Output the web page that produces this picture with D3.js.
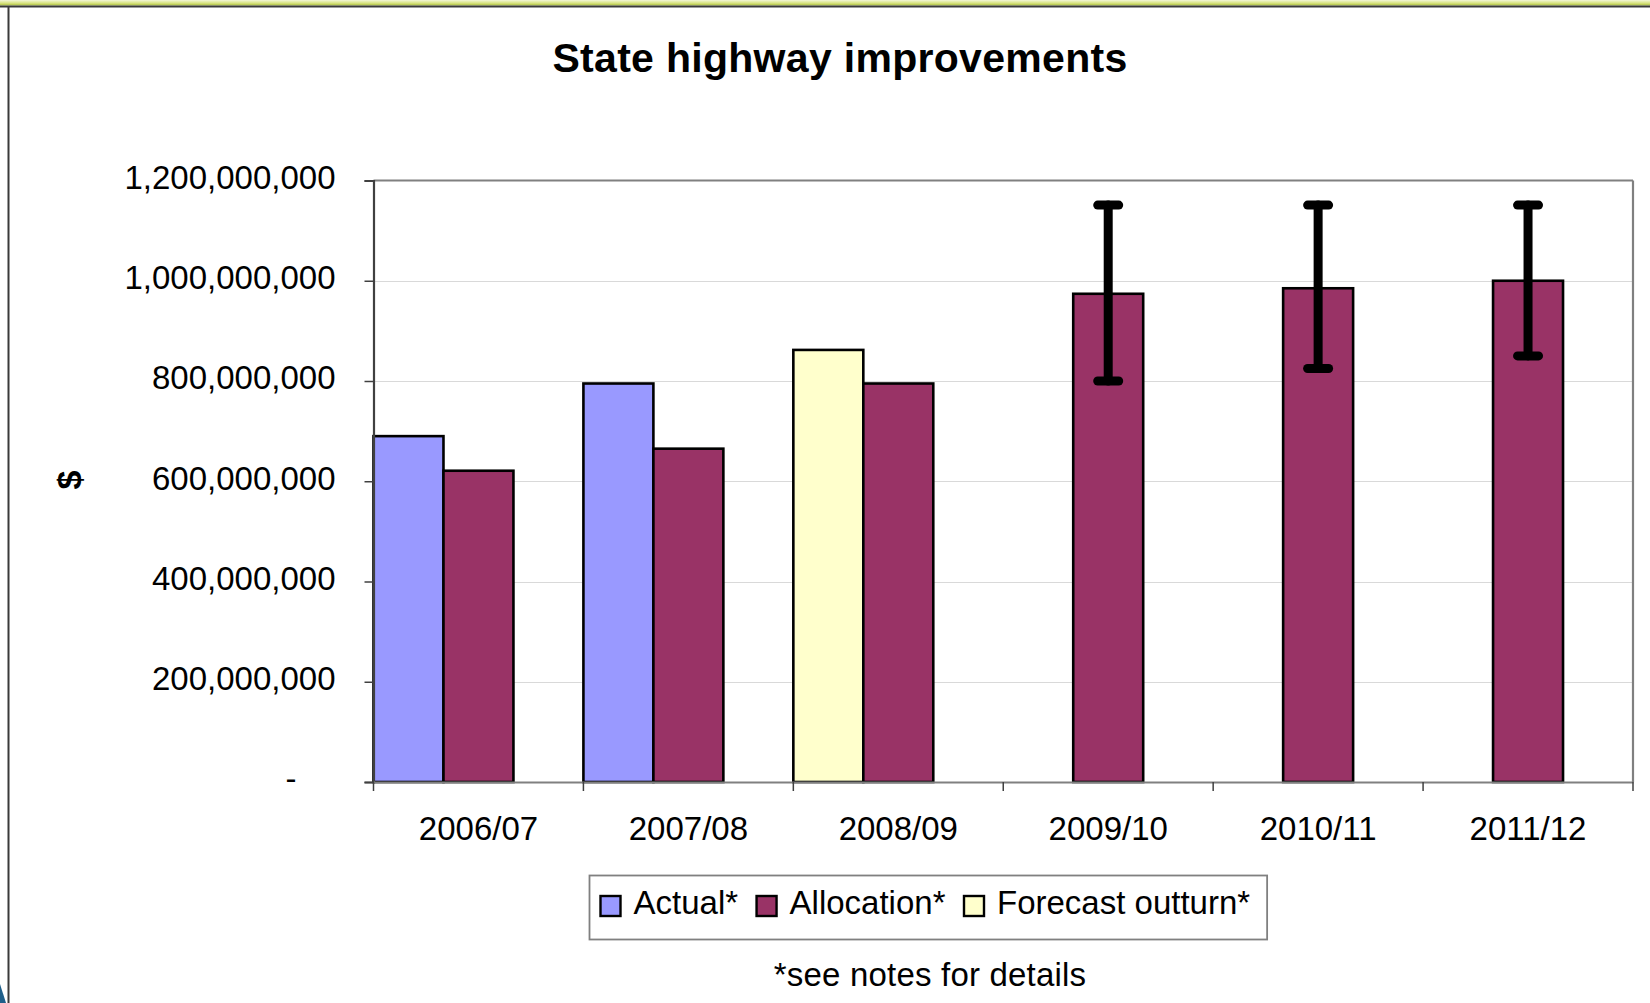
<!DOCTYPE html>
<html>
<head>
<meta charset="utf-8">
<script src="https://cdn.jsdelivr.net/npm/d3@7"></script>
<style>
  html, body { margin: 0; padding: 0; background: #fff; }
  svg { display: block; font-family: "Liberation Sans", Arial, sans-serif; }
</style>
</head>
<body>
<svg id="chart" width="1650" height="1003"></svg>
<script>
// ---- data ----
const categories = ["2006/07", "2007/08", "2008/09", "2009/10", "2010/11", "2011/12"];
const actual     = [690e6, 795e6, null, null, null, null];
const forecast   = [null, null, 862e6, null, null, null];
const allocation = [621e6, 665e6, 795e6, 974e6, 985e6, 1000e6];
const errLow     = [null, null, null, 800e6, 825e6, 850e6];
const errHigh    = [null, null, null, 1151e6, 1151e6, 1151e6];
const yTicks     = [0, 200e6, 400e6, 600e6, 800e6, 1000e6, 1200e6];
const seriesNames  = ["Actual*", "Allocation*", "Forecast outturn*"];
const seriesColors = ["#9999FF", "#993366", "#FFFFCC"];

// ---- layout ----
const svg = d3.select("#chart");
const L = 373.5, R = 1633, T = 180.5, B = 782;

const x = d3.scaleBand().domain(categories).range([L, R]).padding(0);
const slot = d3.scaleBand().domain([0, 1, 2]).range([0, x.bandwidth()]).padding(0);
const y = d3.scaleLinear().domain([0, 1.2e9]).range([B, T]);

// ---- slide frame decorations ----
const defs = svg.append("defs");
const g1 = defs.append("linearGradient").attr("id", "topband").attr("x1", 0).attr("y1", 0).attr("x2", 0).attr("y2", 1);
g1.append("stop").attr("offset", "0%").attr("stop-color", "#f4f7d8");
g1.append("stop").attr("offset", "60%").attr("stop-color", "#d6e27c");
g1.append("stop").attr("offset", "100%").attr("stop-color", "#a9bd3a");
svg.append("rect").attr("x", 0).attr("y", 0).attr("width", 1650).attr("height", 5.5).attr("fill", "url(#topband)");
svg.append("line").attr("x1", 0).attr("x2", 1650).attr("y1", 6.5).attr("y2", 6.5).attr("stroke", "#3a3a3a").attr("stroke-width", 2);
svg.append("line").attr("x1", 8.5).attr("x2", 8.5).attr("y1", 6).attr("y2", 1003).attr("stroke", "#3a3a3a").attr("stroke-width", 2);
svg.append("path").attr("d", "M0,984 L6,1003 L0,1003 Z").attr("fill", "#1f5f8a");

// ---- title ----
svg.append("text")
  .attr("x", 840).attr("y", 72)
  .attr("text-anchor", "middle")
  .attr("font-size", 41).attr("font-weight", "bold")
  .attr("letter-spacing", 0.3)
  .attr("fill", "#000")
  .text("State highway improvements");

// ---- gridlines ----
svg.append("g").selectAll("line")
  .data(yTicks.filter(d => d > 0 && d < 1.2e9))
  .join("line")
  .attr("x1", L).attr("x2", R)
  .attr("y1", d => Math.round(y(d)) + 0.5).attr("y2", d => Math.round(y(d)) + 0.5)
  .attr("stroke", "#d9d9d9").attr("stroke-width", 1.2);

// plot border top/right
svg.append("line").attr("x1", L).attr("x2", R).attr("y1", T).attr("y2", T).attr("stroke", "#808080").attr("stroke-width", 2.2);
svg.append("line").attr("x1", R).attr("x2", R).attr("y1", T).attr("y2", B).attr("stroke", "#808080").attr("stroke-width", 2.2);

// ---- bars ----
const barData = [];
categories.forEach((c, i) => {
  if (actual[i] != null) barData.push({ c, v: actual[i], s: 0, slot: 0 });
  if (forecast[i] != null) barData.push({ c, v: forecast[i], s: 2, slot: 0 });
  if (allocation[i] != null) barData.push({ c, v: allocation[i], s: 1, slot: 1 });
});
svg.append("g").selectAll("rect")
  .data(barData)
  .join("rect")
  .attr("x", d => x(d.c) + slot(d.slot))
  .attr("y", d => y(d.v))
  .attr("width", slot.bandwidth())
  .attr("height", d => y(0) - y(d.v))
  .attr("fill", d => seriesColors[d.s])
  .attr("stroke", "#000").attr("stroke-width", 2.6);

// ---- error bars ----
const errData = categories.map((c, i) => ({ c, lo: errLow[i], hi: errHigh[i] })).filter(d => d.lo != null);
const eg = svg.append("g").attr("stroke", "#000").attr("stroke-width", 9).attr("stroke-linecap", "round");
const cx = d => x(d.c) + slot(1) + slot.bandwidth() / 2;
eg.selectAll("line.stem").data(errData).join("line").attr("class", "stem")
  .attr("x1", cx).attr("x2", cx).attr("y1", d => y(d.hi)).attr("y2", d => y(d.lo));
eg.selectAll("line.capHi").data(errData).join("line").attr("class", "capHi")
  .attr("x1", d => cx(d) - 10.5).attr("x2", d => cx(d) + 10.5).attr("y1", d => y(d.hi)).attr("y2", d => y(d.hi));
eg.selectAll("line.capLo").data(errData).join("line").attr("class", "capLo")
  .attr("x1", d => cx(d) - 10.5).attr("x2", d => cx(d) + 10.5).attr("y1", d => y(d.lo)).attr("y2", d => y(d.lo));

// ---- y axis ----
const yAxis = d3.axisLeft(y).tickValues(yTicks).tickSize(9).tickPadding(29)
  .tickFormat(d => d === 0 ? "-" : d3.format(",")(d));
const yg = svg.append("g").attr("transform", `translate(${L},0)`).call(yAxis);
yg.select(".domain").attr("stroke", "#404040").attr("stroke-width", 2.2);
yg.selectAll(".tick line").attr("stroke", "#404040").attr("stroke-width", 1.5);
yg.selectAll(".tick text").attr("font-size", 33).attr("fill", "#000")
  .attr("font-family", "Liberation Sans, Arial, sans-serif")
  .attr("dy", "0.24em")
  .attr("dx", d => d === 0 ? -39 : 0);

// ---- x axis ----
const xAxis = d3.axisBottom(x).tickSize(0).tickPadding(35);
const xg = svg.append("g").attr("transform", `translate(0,${B})`).call(xAxis);
xg.select(".domain").attr("stroke", "#808080").attr("stroke-width", 2.2);
xg.selectAll(".tick text").attr("font-size", 33).attr("fill", "#000")
  .attr("font-family", "Liberation Sans, Arial, sans-serif");
// boundary ticks
const bounds = categories.map(c => x(c)).concat([x(categories[categories.length - 1]) + x.bandwidth()]);
svg.append("g").selectAll("line").data(bounds).join("line")
  .attr("x1", d => d).attr("x2", d => d).attr("y1", B).attr("y2", B + 9)
  .attr("stroke", "#404040").attr("stroke-width", 1.5);

// ---- y axis title ----
svg.append("text")
  .attr("transform", "translate(69,480) rotate(-90)")
  .attr("text-anchor", "middle").attr("dominant-baseline", "central")
  .attr("font-size", 34).attr("font-weight", "bold").attr("fill", "#000")
  .text("$");

// ---- legend ----
const lg = svg.append("g");
const legendBox = lg.append("rect").attr("fill", "#fff").attr("stroke", "#808080").attr("stroke-width", 1.8);
let lx = 600.5;
seriesNames.forEach((name, i) => {
  const it = lg.append("g");
  it.append("rect").attr("x", lx).attr("y", 896).attr("width", 20).attr("height", 20)
    .attr("fill", seriesColors[i]).attr("stroke", "#000").attr("stroke-width", 2.4);
  const t = it.append("text").attr("x", lx + 33).attr("y", 914.3)
    .attr("font-size", 33).attr("fill", "#000").text(name);
  const w = t.node().getComputedTextLength();
  lx = lx + 33 + w + 18.5;
});
const legendRight = lx - 18.5 + 17;
legendBox.attr("x", 589.5).attr("y", 875.5).attr("width", legendRight - 589.5).attr("height", 64);

// ---- footnote ----
svg.append("text")
  .attr("x", 930).attr("y", 986)
  .attr("text-anchor", "middle").attr("font-size", 33).attr("fill", "#000")
  .attr("letter-spacing", 0.2)
  .text("*see notes for details");
</script>
</body>
</html>
